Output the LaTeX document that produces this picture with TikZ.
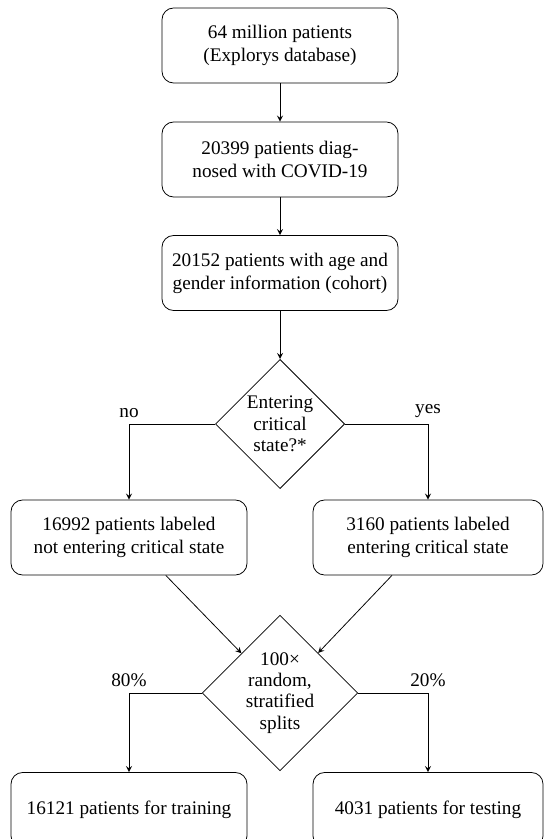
\documentclass[tikz,border=0pt]{standalone}
\usepackage{fontspec}
\setmainfont{Liberation Serif}
\usetikzlibrary{shapes.geometric,arrows}

\tikzset{every picture/.style={line width=0.4pt}}
\tikzset{
  flowbox/.style={draw, rounded corners=6pt, align=center, minimum height=39pt, font=\fontsize{10}{12}\selectfont},
  widebox/.style={flowbox, minimum width=122.7pt},
  sidebox/.style={flowbox, minimum width=119.6pt},
  decision/.style={draw, diamond, aspect=1, inner sep=0pt, align=center},
  flowarr/.style={->, >=stealth}
}

\begin{document}
\begin{tikzpicture}[x=0.52pt,y=0.52pt,yscale=-1,xscale=1]
	\useasboundingbox (0,0) rectangle (544,839);

	% Boxes
	\node [widebox] (patients) at (280,45.5) {64 million patients\\(Explorys database)};
	\node [widebox] (covid) at (280,159.5) {20399 patients diag-\\nosed with COVID-19};
	\node [widebox] (cohort) at (280,273) {20152 patients with age and\\gender information (cohort)};
	% Decision
	\node [decision, font=\fontsize{10}{11.2}\selectfont, inner sep=0.9pt] (critical) at (280,424) {Entering\\critical\\state?*};
	\node [widebox] (negative) at (129,537.5) {16992 patients labeled\\not entering critical state};
	\node [sidebox] (positive) at (428,537.5) {3160 patients labeled\\entering critical state};
	% Split
	\node [decision, font=\fontsize{10}{11}\selectfont, inner sep=0.9pt] (split) at (280,693) {100×\\random,\\stratified\\splits};
	\node [widebox] (training) at (129,810) {16121 patients for training};
	\node [sidebox] (testing) at (428,810) {4031 patients for testing};

	% Connectors
	\draw [flowarr] (patients) -- (covid);
	\draw [flowarr] (covid) -- (cohort);
	\draw [flowarr] (cohort) -- (critical);
	\draw [flowarr] (critical.west) -| node [pos=0.5, above, inner sep=3pt] {no} (negative);
	\draw [flowarr] (critical.east) -| node [pos=0.5, above, inner sep=3pt] {yes} (positive);
	\draw [flowarr] (negative) -- (split);
	\draw [flowarr] (positive) -- (split);
	\draw [flowarr] (split.west) -| node [pos=0.5, above, inner sep=3pt] {80\%} (training);
	\draw [flowarr] (split.east) -| node [pos=0.5, above, inner sep=3pt] {20\%} (testing);

\end{tikzpicture}
\end{document}
